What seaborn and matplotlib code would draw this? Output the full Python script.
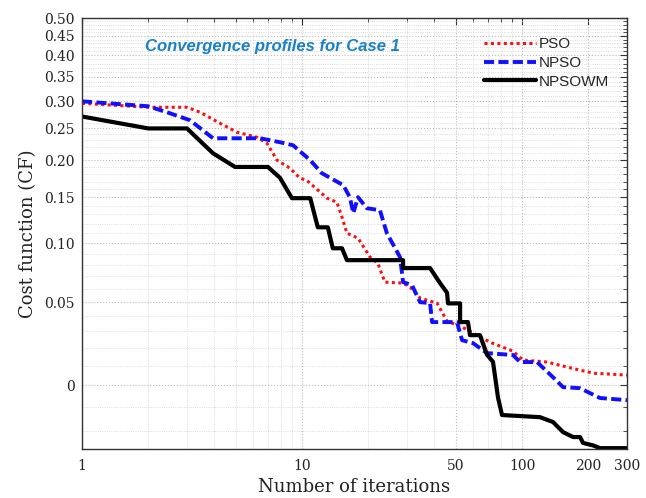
import numpy as np
import pandas as pd
import matplotlib
matplotlib.use("Agg")
import matplotlib.pyplot as plt
from matplotlib.ticker import FixedLocator, FixedFormatter, MultipleLocator, LogLocator, NullFormatter
import seaborn as sns

# ---- data ----
pso_iter = [1, 2.0, 3.0, 3.44, 4.24, 5.06, 6.24, 6.93, 7.70, 8.82, 9.79, 10.5, 13.0, 14.4, 15.2,
            16.0, 17.97, 20.4, 22.1, 23.8, 28.8, 31.0, 34.4, 41.1, 45.6, 52.3, 71.5, 91.0, 101,
            130, 160, 210, 300]
pso_cost = [0.2957, 0.2881, 0.2881, 0.2788, 0.259, 0.2436, 0.2353, 0.2256, 0.1997, 0.1882, 0.1745,
            0.1718, 0.149, 0.1442, 0.1269, 0.1099, 0.1049, 0.0867, 0.0813, 0.0653, 0.0645, 0.0613,
            0.0529, 0.0492, 0.0366, 0.0334, 0.0233, 0.018, 0.013, 0.0119, 0.0092, 0.006, 0.005]

npso_iter = [1, 2.0, 2.43, 3.10, 3.94, 6.44, 7.94, 9.10, 10.9, 12.3, 15.4, 16.5, 17.1, 17.97, 19.7,
             22.6, 24.3, 27.9, 28.8, 31.6, 34.4, 38.2, 39.0, 50.6, 53.4, 59.9, 69.3, 91.0, 97.9,
             117, 138, 153.6, 183.5, 226, 300]
npso_cost = [0.2995, 0.290, 0.2788, 0.2642, 0.2336, 0.2336, 0.2272, 0.2224, 0.1997, 0.1813, 0.1653,
             0.1502, 0.1314, 0.1502, 0.1371, 0.1348, 0.1099, 0.0867, 0.0653, 0.0629, 0.0499, 0.0492,
             0.036, 0.036, 0.0245, 0.0227, 0.0169, 0.0158, 0.0119, 0.0119, 0.004, -0.001, -0.0015,
             -0.0061, -0.0071]

npsowm_iter = [1, 2.0, 3.0, 3.94, 4.96, 7.0, 7.94, 9.0, 10.9, 11.8, 13.1, 13.8, 15.2, 16.0, 28.8,
               28.8, 38.2, 42.4, 45.6, 46.1, 52.3, 52.3, 56.8, 58.0, 64.4, 69.3, 73.8, 77.8, 81.1,
               120.7, 138.3, 153.6, 170.6, 183.5, 189.4, 210.3, 226.2, 300]
npsowm_cost = [0.271, 0.250, 0.250, 0.210, 0.190, 0.190, 0.175, 0.149, 0.149, 0.116, 0.116, 0.095,
               0.095, 0.084, 0.084, 0.077, 0.077, 0.0645, 0.057, 0.049, 0.049, 0.036, 0.036, 0.0276,
               0.0276, 0.016, 0.012, -0.006, -0.0136, -0.0145, -0.0165, -0.0205, -0.0224, -0.0224,
               -0.0246, -0.0255, -0.0265, -0.0265]

x_ticks = [1, 10, 50, 100, 200, 300]
x_tick_labels = ["1", "10", "50", "100", "200", "300"]
y_ticks = [0, 0.05, 0.10, 0.15, 0.20, 0.25, 0.30, 0.35, 0.40, 0.45, 0.50]
y_tick_labels = ["0", "0.05", "0.10", "0.15", "0.20", "0.25", "0.30", "0.35", "0.40", "0.45", "0.50"]

sns.set_style("white")
plt.rcParams["font.family"] = ["DejaVu Serif"]

fig = plt.figure(figsize=(6.46, 4.98), dpi=100)
ax = fig.add_axes([82 / 646, 49 / 498, 545 / 646, 431 / 498])

OFF = 0.1
def fwd(y):
    return np.log(np.maximum(np.asarray(y, dtype=float) + OFF, 1e-9))
def inv(v):
    return np.exp(v) - OFF

ax.set_xscale("log")
ax.set_yscale("function", functions=(fwd, inv))

sns.lineplot(x=pso_iter, y=pso_cost, ax=ax, estimator=None, sort=False, color="#ff1010",
             linestyle=(0, (1, 1.1)), linewidth=2.2, label="PSO")
sns.lineplot(x=npso_iter, y=npso_cost, ax=ax, estimator=None, sort=False, color="#1010ff",
             linestyle=(0, (2.6, 1.1)), linewidth=2.8, label="NPSO")
sns.lineplot(x=npsowm_iter, y=npsowm_cost, ax=ax, estimator=None, sort=False, color="black",
             linestyle="-", linewidth=3.0, label="NPSOWM")

ax.set_xlim(1, 300)
ax.set_ylim(-0.0268, 0.5)

ax.xaxis.set_major_locator(FixedLocator(x_ticks))
ax.xaxis.set_major_formatter(FixedFormatter(x_tick_labels))
ax.xaxis.set_minor_locator(LogLocator(base=10, subs=np.arange(2, 10)))
ax.xaxis.set_minor_formatter(NullFormatter())
ax.yaxis.set_major_locator(FixedLocator(y_ticks))
ax.yaxis.set_major_formatter(FixedFormatter(y_tick_labels))
ax.yaxis.set_minor_locator(MultipleLocator(0.01))
ax.yaxis.set_minor_formatter(NullFormatter())

ax.tick_params(which="both", direction="in", top=True, right=True, colors="#333333",
               labelcolor="#222222")
ax.tick_params(which="major", length=5, width=0.8, labelsize=10)
ax.tick_params(which="minor", length=3, width=0.6)
ax.tick_params(axis="x", which="major", pad=7)
ax.tick_params(axis="y", which="major", pad=5)

ax.grid(which="major", color="#bbbbbb", linestyle=":", linewidth=0.8)
ax.grid(which="minor", color="#d0d0d0", linestyle=":", linewidth=0.6)
for s in ax.spines.values():
    s.set_color("#333333")
    s.set_linewidth(1.0)

ax.set_xlabel("Number of iterations", fontsize=13, color="#222222", labelpad=4)
ax.set_ylabel("Cost function (CF)", fontsize=13, color="#222222", labelpad=5)

ax.text(272 / 646, 1 - 47 / 498, "Convergence profiles for Case 1", transform=fig.transFigure,
        ha="center", va="center", fontsize=12, fontweight="bold", fontstyle="italic",
        color="#1a80c8", family=["Liberation Sans", "DejaVu Sans"])

leg = ax.legend(loc="upper left", bbox_to_anchor=(484 / 646, 1 - 37 / 498),
                bbox_transform=fig.transFigure, frameon=False, handlelength=3.4,
                handletextpad=0.2, labelspacing=0.32, borderpad=0, borderaxespad=0,
                prop={"family": ["Liberation Sans", "DejaVu Sans"], "size": 11})

fig.savefig("out.png", dpi=100)
